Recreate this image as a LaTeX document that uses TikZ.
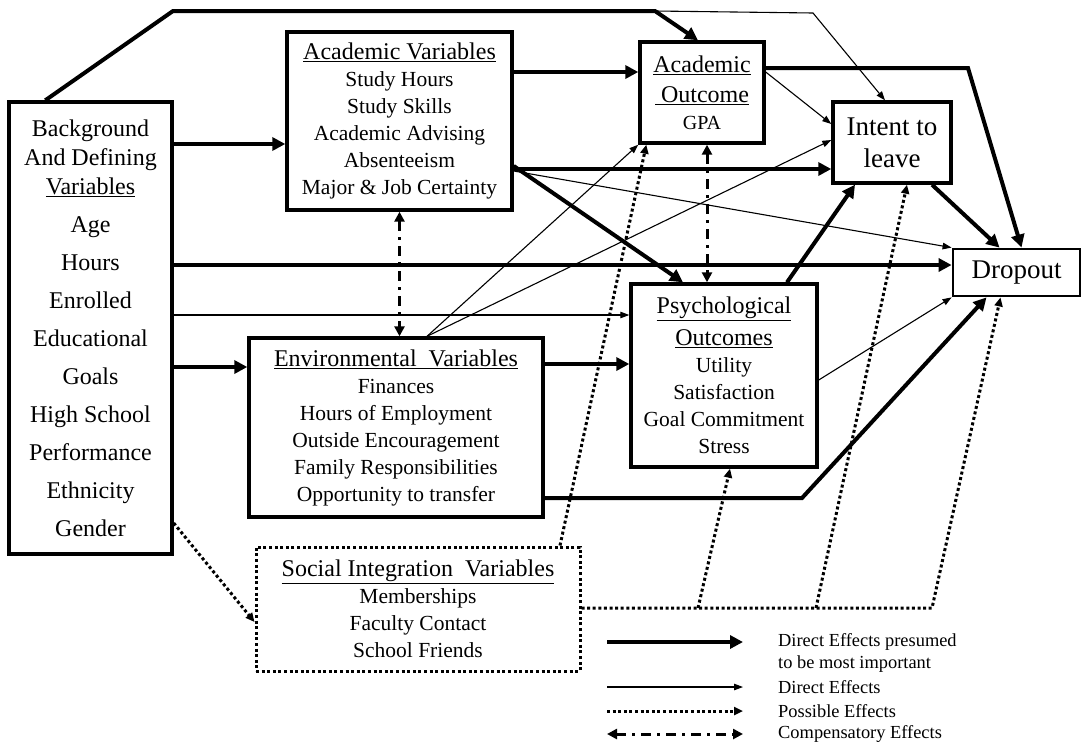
\documentclass[tikz,border=0pt]{standalone}
\usepackage{fontspec}
\setmainfont{Liberation Serif}
\usetikzlibrary{arrows.meta}
\newcommand{\hd}[1]{{\fontsize{24}{29}\selectfont\underline{#1}}}

\begin{document}
\begin{tikzpicture}[x=1pt,y=-1pt,
  box/.style={draw,line width=3.4pt,align=center,inner sep=0pt,font=\fontsize{21.5}{27}\selectfont},
  legend/.style={anchor=west,inner sep=0pt,align=left,font=\fontsize{18.4}{22}\selectfont},
  mainarr/.style={line width=4pt,-{Triangle[length=13pt,width=13pt]}},
  direct/.style={line width=1.1pt,-{Triangle[length=9pt,width=6.5pt]}},
  possible/.style={line width=3pt,dash pattern=on 3pt off 2.6pt,-{Triangle[length=9pt,width=8pt]}},
  compens/.style={line width=3pt,dash pattern=on 10pt off 6pt on 3pt off 6pt,{Triangle[length=10pt,width=10pt]}-{Triangle[length=10pt,width=10pt]}}]

\fill[white] (0,0) rectangle (1083,745);
\useasboundingbox (0,0) rectangle (1083,745);

% boxes
\node[box,minimum width=163pt,minimum height=452pt,font=\fontsize{24}{29}\selectfont] (bg) at (90.5,328)
  {Background\\And Defining\\\underline{Variables}\\[9pt]Age\\[9pt]Hours\\[9pt]Enrolled\\[9pt]Educational\\[9pt]Goals\\[9pt]High School\\[9pt]Performance\\[9pt]Ethnicity\\[9pt]Gender};
\node[box,minimum width=225pt,minimum height=178pt] (acv) at (399.5,121)
  {\hd{Academic Variables}\\Study Hours\\Study Skills\\Academic Advising\\Absenteeism\\Major \& Job Certainty};
\node[box,minimum width=124pt,minimum height=101pt] (aco) at (702,92.5)
  {\hd{Academic}\\[3pt]\hd{~Outcome}\\{\fontsize{20}{27}\selectfont GPA}};
\node[box,minimum width=118pt,minimum height=81pt,font=\fontsize{27}{32}\selectfont] (itl) at (892,142.5)
  {Intent to\\leave};
\node[box,line width=2.8pt,minimum width=127pt,minimum height=47pt,font=\fontsize{27}{32}\selectfont] (drop) at (1016.5,272.5)
  {Dropout};
\node[box,minimum width=186pt,minimum height=183pt] (psy) at (724,375.5)
  {\hd{Psychological}\\[5pt]\hd{Outcomes}\\Utility\\Satisfaction\\Goal Commitment\\Stress};
\node[box,minimum width=294pt,minimum height=179pt] (env) at (396,427.5)
  {\hd{Environmental\ \ Variables}\\Finances\\Hours of Employment\\Outside Encouragement\\Family Responsibilities\\Opportunity to transfer};
\node[box,line width=3pt,dash pattern=on 3pt off 2.6pt,minimum width=324pt,minimum height=124pt] (soc) at (418,609)
  {\hd{Social Integration\ \ Variables}\\Memberships\\Faculty Contact\\School Friends};

% background
\coordinate (t1) at (173,11);
\coordinate (t2) at (655,11);
\coordinate (t3) at (813,13);
\draw[mainarr] ([xshift=38pt]bg.north west) -- (t1) -- (t2) -- ([xshift=-4pt]aco.north);
\draw[direct] (t2) -- (t3) -- ([xshift=-7pt]itl.north);
\draw[mainarr] (bg.east |- 0,144) -- (acv.west |- 0,144);
\draw[mainarr] (bg.east |- 0,265) -- (drop.west |- 0,265);
\draw[direct] (bg.east |- 0,315) -- (psy.west |- 0,315);
\draw[mainarr] (bg.east |- 0,367) -- (env.west |- 0,367);
\draw[possible] (bg.east |- 0,523) -- (soc.west |- 0,622);

% academic variables
\draw[mainarr] (acv.east |- 0,72) -- (aco.west |- 0,72);
\draw[mainarr] (acv.east |- 0,169) -- (itl.west |- 0,169);
\draw[mainarr] (acv.east |- 0,166) -- ([xshift=-41pt]psy.north);
\draw[direct] (acv.east |- 0,171) -- (drop.north west);
\draw[compens] (acv.south) -- (acv.south |- env.north);

% academic outcome
\coordinate (ad) at (968,68);
\draw[mainarr] (aco.east |- 0,68) -- (ad) -- ([xshift=5pt]drop.north);
\draw[direct] (aco.east |- 0,72) -- (itl.west |- 0,124);
\draw[compens] (aco.south -| 707,0) -- (psy.north -| 707,0);
\draw[mainarr] ([xshift=40pt]itl.south) -- ([xshift=-17pt]drop.north);

% environmental
\draw[mainarr] (env.east |- 0,364) -- (psy.west |- 0,364);
\draw[direct] ([xshift=31pt]env.north) -- (aco.south west);
\draw[direct] ([xshift=31pt]env.north) -- (itl.west |- 0,140);
\coordinate (ed) at (802,498);
\draw[mainarr] (env.east |- 0,498) -- (ed) -- ([xshift=-30pt]drop.south);

% psychological
\draw[mainarr] ([xshift=63pt]psy.north) -- ([xshift=-37pt]itl.south);
\draw[direct] (psy.east |- 0,380) -- (drop.south west);

% social integration
\coordinate (s1) at (698,608);
\coordinate (s2) at (816,608);
\coordinate (s3) at (932,608);
\draw[possible] ([xshift=142pt]soc.north) -- ([xshift=8pt]aco.south west);
\draw[possible] (soc.east |- s3) -- (s3) -- ([xshift=-16pt]drop.south);
\draw[possible] (s1) -- ([xshift=6pt]psy.south);
\draw[possible] (s2) -- ([xshift=15pt]itl.south);

% legend
\coordinate (la1) at (607,642); \coordinate (lb1) at (743,642);
\coordinate (la2) at (607,687); \coordinate (lb2) at (743,687);
\coordinate (la3) at (607,711); \coordinate (lb3) at (743,711);
\coordinate (la4) at (607,734); \coordinate (lb4) at (743,734);
\draw[mainarr] (la1) -- (lb1);
\draw[direct] (la2) -- (lb2);
\draw[possible] (la3) -- (lb3);
\draw[compens] (la4) -- (lb4);
\node[legend] (lg1) at (778,653) {Direct Effects presumed\\to be most important};
\node[legend] (lg2) at (778,687) {Direct Effects};
\node[legend] (lg3) at (778,711) {Possible Effects};
\node[legend] (lg4) at (778,734) {Compensatory Effects};

\end{tikzpicture}
\end{document}
